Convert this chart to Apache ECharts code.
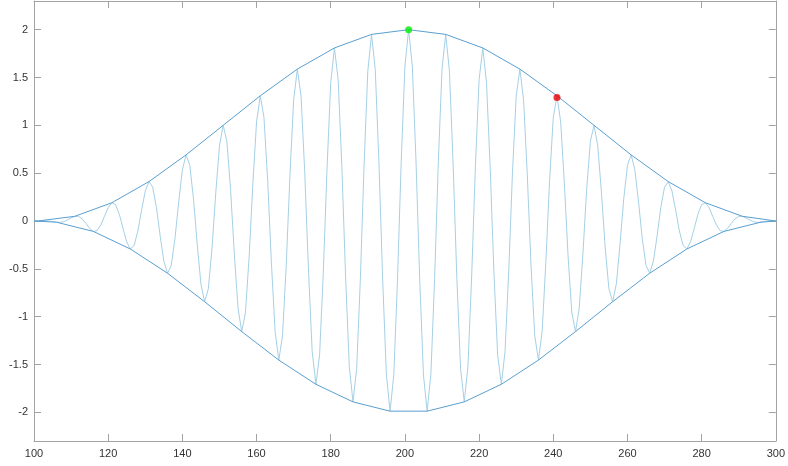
<!DOCTYPE html>
<html>
<head>
<meta charset="utf-8">
<script src="https://cdn.jsdelivr.net/npm/echarts@6/dist/echarts.min.js"></script>
<style>
html,body{margin:0;padding:0;background:#fff;}
#chart{width:788px;height:466px;}
</style>
</head>
<body>
<div id="chart"></div>
<script>
// sample positions 100..300 (step 1)
const sampleX = Array.from({length: 201}, (_, i) => 100 + i);
// modulated signal, one value per sample position
const signalY = [
  0, 0, 0, 0.001, -0.001, -0.006, -0.012, -0.015, -0.007, 0.010,
  0.032, 0.049, 0.049, 0.022, -0.025, -0.077, -0.109, -0.100, -0.043, 0.048,
  0.140, 0.191, 0.170, 0.071, -0.077, -0.219, -0.293, -0.255, -0.105, 0.112,
  0.313, 0.412, 0.354, 0.143, -0.152, -0.419, -0.546, -0.464, -0.186, 0.195,
  0.535, 0.691, 0.583, 0.232, -0.242, -0.658, -0.844, -0.708, -0.280, 0.290,
  0.784, 1.000, 0.834, 0.328, -0.338, -0.910, -1.156, -0.960, -0.376, 0.386,
  1.035, 1.309, 1.083, 0.423, -0.432, -1.154, -1.454, -1.199, -0.466, 0.475,
  1.264, 1.588, 1.305, 0.506, -0.513, -1.363, -1.707, -1.399, -0.541, 0.547,
  1.448, 1.809, 1.478, 0.570, -0.575, -1.518, -1.891, -1.541, -0.593, 0.596,
  1.570, 1.951, 1.586, 0.608, -0.611, -1.603, -1.988, -1.612, -0.617, 0.617,
  1.618,
  2.000,
  1.618, 0.617, -0.617, -1.612, -1.988, -1.603, -0.611, 0.608, 1.586, 1.951,
  1.570, 0.596, -0.593, -1.541, -1.891, -1.518, -0.575, 0.570, 1.478, 1.809,
  1.448, 0.547, -0.541, -1.399, -1.707, -1.363, -0.513, 0.506, 1.305, 1.588,
  1.264, 0.475, -0.466, -1.199, -1.454, -1.154, -0.432, 0.423, 1.083, 1.309,
  1.035, 0.386, -0.376, -0.960, -1.156, -0.910, -0.338, 0.328, 0.834, 1.000,
  0.784, 0.290, -0.280, -0.708, -0.844, -0.658, -0.242, 0.232, 0.583, 0.691,
  0.535, 0.195, -0.186, -0.464, -0.546, -0.419, -0.152, 0.143, 0.354, 0.412,
  0.313, 0.112, -0.105, -0.255, -0.293, -0.219, -0.077, 0.071, 0.170, 0.191,
  0.140, 0.048, -0.043, -0.100, -0.109, -0.077, -0.025, 0.022, 0.049, 0.049,
  0.032, 0.010, -0.007, -0.015, -0.012, -0.006, -0.001, 0.001, 0.000
];
// upper envelope through the peaks
const upperX = [100, 101, 111, 121, 131, 141, 151, 161, 171, 181, 191, 201, 211, 221, 231, 241, 251, 261, 271, 281, 291, 300];
const upperY = [0, 0, 0.049, 0.191, 0.412, 0.691, 1.000, 1.309, 1.588, 1.809, 1.951, 2.000, 1.951, 1.809, 1.588, 1.309, 1.000, 0.691, 0.412, 0.191, 0.049, 0];
// lower envelope through the troughs
const lowerX = [100, 106, 116, 126, 136, 146, 156, 166, 176, 186, 196, 206, 216, 226, 236, 246, 256, 266, 276, 286, 296, 300];
const lowerY = [0, -0.012, -0.109, -0.293, -0.546, -0.844, -1.156, -1.454, -1.707, -1.891, -1.988, -1.988, -1.891, -1.707, -1.454, -1.156, -0.844, -0.546, -0.293, -0.109, -0.012, 0];
// marked points
const greenPoint = [201, 2.0];
const redPoint = [241, 1.29];
// tick labels
const xTicks = [100, 120, 140, 160, 180, 200, 220, 240, 260, 280, 300];
const yTicks = [-2, -1.5, -1, -0.5, 0, 0.5, 1, 1.5, 2];

const zip = (xs, ys) => xs.map((x, i) => [x, ys[i]]);

const frameColor = '#a3a3a3';
const textColor = '#333333';
const font = 'Liberation Sans, Arial, sans-serif';

const chart = echarts.init(document.getElementById('chart'), null, {renderer: 'canvas'});
chart.setOption({
  animation: false,
  backgroundColor: '#ffffff',
  grid: {left: 34, right: 10, top: 1, bottom: 25, containLabel: false},
  xAxis: [
    {
      type: 'value', min: 100, max: 300, interval: 20, position: 'bottom',
      axisLine: {show: true, onZero: false, lineStyle: {color: frameColor, width: 1}},
      axisTick: {show: true, inside: true, length: 7, lineStyle: {color: frameColor}},
      axisLabel: {show: true, color: textColor, fontFamily: font, fontSize: 11, margin: 7,
        formatter: v => String(v)},
      splitLine: {show: false}
    },
    {
      type: 'value', min: 100, max: 300, interval: 20, position: 'top',
      axisLine: {show: true, onZero: false, lineStyle: {color: frameColor, width: 1}},
      axisTick: {show: true, inside: true, length: 7, lineStyle: {color: frameColor}},
      axisLabel: {show: false},
      splitLine: {show: false}
    }
  ],
  yAxis: [
    {
      type: 'value', min: -2.3, max: 2.3, position: 'left',
      axisLine: {show: true, onZero: false, lineStyle: {color: frameColor, width: 1}},
      axisTick: {show: true, inside: true, length: 7, customValues: yTicks, lineStyle: {color: frameColor}},
      axisLabel: {show: true, color: textColor, fontFamily: font, fontSize: 11, margin: 6,
        customValues: yTicks, formatter: v => String(v)},
      splitLine: {show: false}
    },
    {
      type: 'value', min: -2.3, max: 2.3, position: 'right',
      axisLine: {show: true, onZero: false, lineStyle: {color: frameColor, width: 1}},
      axisTick: {show: true, inside: true, length: 7, customValues: yTicks, lineStyle: {color: frameColor}},
      axisLabel: {show: false, customValues: yTicks},
      splitLine: {show: false}
    }
  ],
  series: [
    {
      name: 'signal', type: 'line', xAxisIndex: 0, yAxisIndex: 0,
      data: zip(sampleX, signalY), showSymbol: false, symbol: 'none',
      lineStyle: {color: '#a5d0e6', width: 1}, z: 2
    },
    {
      name: 'upper', type: 'line', xAxisIndex: 0, yAxisIndex: 0,
      data: zip(upperX, upperY), showSymbol: false, symbol: 'none',
      lineStyle: {color: '#5a9fcf', width: 1}, z: 3
    },
    {
      name: 'lower', type: 'line', xAxisIndex: 0, yAxisIndex: 0,
      data: zip(lowerX, lowerY), showSymbol: false, symbol: 'none',
      lineStyle: {color: '#5a9fcf', width: 1}, z: 3
    },
    {
      name: 'max', type: 'scatter', xAxisIndex: 0, yAxisIndex: 0,
      data: [greenPoint], symbol: 'circle', symbolSize: 7,
      itemStyle: {color: '#00ee00'}, z: 5
    },
    {
      name: 'mark', type: 'scatter', xAxisIndex: 0, yAxisIndex: 0,
      data: [redPoint], symbol: 'circle', symbolSize: 7,
      itemStyle: {color: '#ee0000'}, z: 5
    }
  ]
});
</script>
</body>
</html>
